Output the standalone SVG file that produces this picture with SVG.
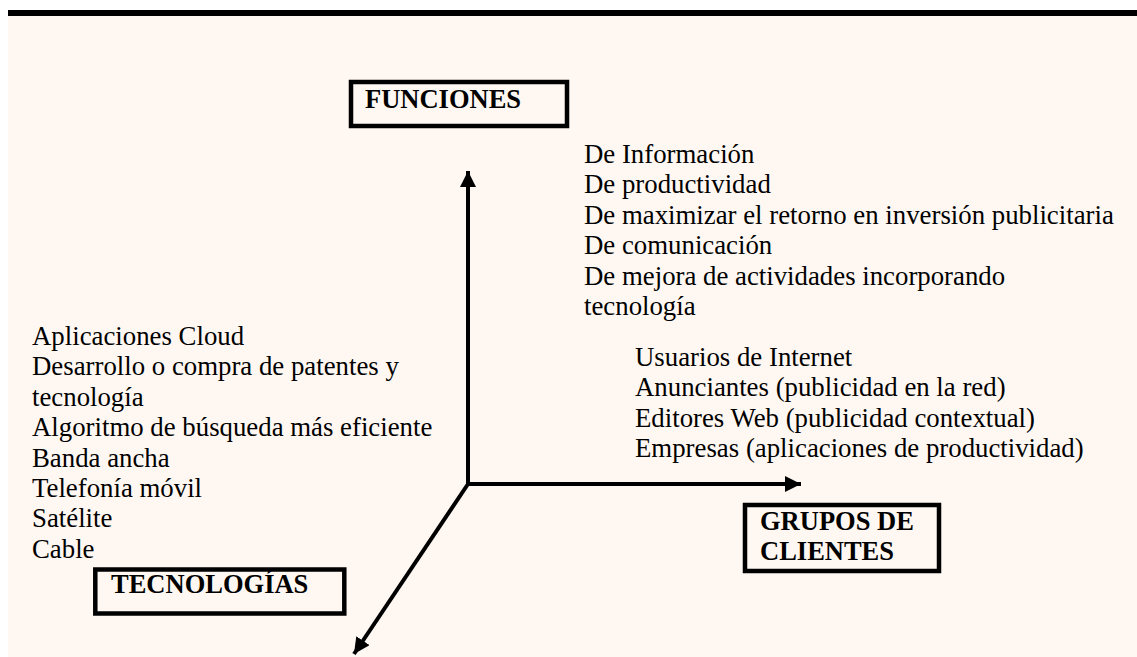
<svg xmlns="http://www.w3.org/2000/svg" width="1137" height="657" viewBox="0 0 1137 657">
<style>
.t{font-family:"Liberation Serif","Times New Roman",serif;font-size:26.8px;fill:#000}
.b{font-weight:bold;font-size:26.5px}
.box{fill:none;stroke:#000;stroke-width:4.5}
.ax{stroke:#000;stroke-width:4;fill:none}
</style>
<defs>
<marker id="ah" markerUnits="userSpaceOnUse" markerWidth="18" markerHeight="18" refX="16" refY="8" orient="auto">
<path d="M0,0 L16,8 L0,16 Z" fill="#000"/>
</marker>
</defs>
<rect x="0" y="0" width="1137" height="657" fill="#fff"/>
<rect x="8" y="16" width="1129" height="641" fill="#fff8f2"/>
<rect x="8" y="10" width="1129" height="6" fill="#000"/>
<g id="connectors">
<line class="ax" x1="468" y1="486" x2="468" y2="171" marker-end="url(#ah)"/>
<line class="ax" x1="466" y1="484" x2="801" y2="484" marker-end="url(#ah)"/>
<line class="ax" x1="468" y1="484" x2="354" y2="654" marker-end="url(#ah)"/>
</g>
<g id="funciones">
<rect class="box" x="351" y="82" width="216" height="44"/>
<text class="t b" x="365" y="108">FUNCIONES</text>
</g>
<g id="grupos">
<rect class="box" x="745" y="505" width="194" height="66"/>
<text class="t b" x="760" y="530">GRUPOS DE</text>
<text class="t b" x="760" y="560">CLIENTES</text>
</g>
<g id="tecnologias">
<rect class="box" x="95.3" y="569.5" width="249" height="44"/>
<text class="t b" x="111" y="593">TECNOLOGÍAS</text>
</g>
<g id="lista-funciones">
<text class="t" x="584" y="163">De Información</text>
<text class="t" x="584" y="193.4">De productividad</text>
<text class="t" x="584" y="223.8">De maximizar el retorno en inversión publicitaria</text>
<text class="t" x="584" y="254.2">De comunicación</text>
<text class="t" x="584" y="284.6">De mejora de actividades incorporando</text>
<text class="t" x="584" y="315">tecnología</text>
</g>
<g id="lista-clientes">
<text class="t" x="635" y="365.8">Usuarios de Internet</text>
<text class="t" x="635" y="396.2">Anunciantes (publicidad en la red)</text>
<text class="t" x="635" y="426.6">Editores Web (publicidad contextual)</text>
<text class="t" x="635" y="457">Empresas (aplicaciones de productividad)</text>
</g>
<g id="lista-tecnologias">
<text class="t" x="32" y="345">Aplicaciones Cloud</text>
<text class="t" x="32" y="375.4">Desarrollo o compra de patentes y</text>
<text class="t" x="32" y="405.8">tecnología</text>
<text class="t" x="32" y="436.2">Algoritmo de búsqueda más eficiente</text>
<text class="t" x="32" y="466.6">Banda ancha</text>
<text class="t" x="32" y="497">Telefonía móvil</text>
<text class="t" x="32" y="527.4">Satélite</text>
<text class="t" x="32" y="557.8">Cable</text>
</g>
</svg>
